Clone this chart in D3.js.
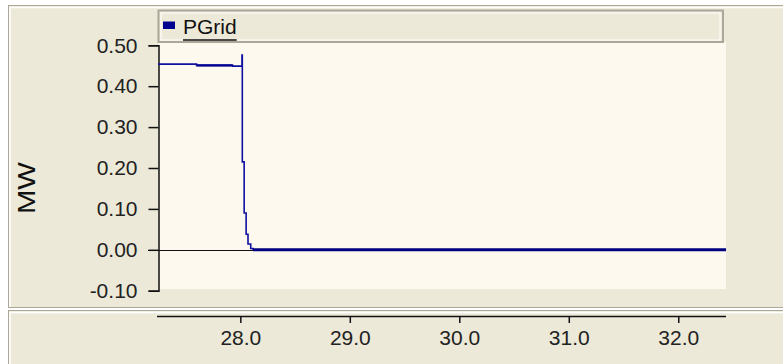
<!DOCTYPE html>
<html>
<head>
<meta charset="utf-8">
<script src="https://cdn.jsdelivr.net/npm/d3@7"></script>
<style>
  html, body { margin: 0; padding: 0; background: #ffffff; }
  svg { display: block; font-family: "Liberation Sans", Arial, sans-serif; }
</style>
</head>
<body>
<svg id="chart" width="783" height="364"></svg>
<script>
// ---- data ----
const seriesName = "PGrid";
const yLabel = "MW";
// transient part of PGrid (time in s, power in MW), step-wise
const timeTransient = [27.248, 27.60, 27.93, 28.015, 28.018, 28.035, 28.053, 28.070, 28.095, 28.115];
const powerTransient = [0.454, 0.451, 0.449, 0.476, 0.215, 0.090, 0.038, 0.014, 0.003, 0.000];
// noisy band before the trip
const timeNoisy = [27.60, 27.93];
const powerNoisy = [0.451, 0.451];
// settled part after the trip
const timeSettled = [28.115, 32.436];
const powerSettled = [0.000, 0.000];
const yTicks = [-0.10, 0.00, 0.10, 0.20, 0.30, 0.40, 0.50];
const xTicks = [28.0, 29.0, 30.0, 31.0, 32.0];

// ---- layout ----
const W = 783, H = 364;
const svg = d3.select("#chart");
const beige = "#ECE9D8", cream = "#FEF9EE", dark = "#ACA899", navy = "#000090";
const FS = 21;

const x = d3.scaleLinear().domain([27.248, 32.436]).range([158, 726]);
const y = d3.scaleLinear().domain([-0.1, 0.5]).range([290.7, 45.3]);

// background panels
svg.append("rect").attr("x", 0).attr("y", 0).attr("width", W).attr("height", H).attr("fill", "#ffffff");
// upper panel
svg.append("rect").attr("x", 8.5).attr("y", 5.5).attr("width", W).attr("height", 302).attr("fill", beige)
  .attr("stroke", dark).attr("stroke-width", 1);
svg.append("path").attr("d", `M10,${307} V7.5 H${W}`).attr("fill", "none").attr("stroke", "#ffffff").attr("stroke-width", 1.5);
// lower panel
svg.append("rect").attr("x", 8.5).attr("y", 310.5).attr("width", W).attr("height", 60).attr("fill", beige)
  .attr("stroke", dark).attr("stroke-width", 1);
svg.append("path").attr("d", `M10,${H} V312.5 H${W}`).attr("fill", "none").attr("stroke", "#ffffff").attr("stroke-width", 1.5);

// plot area
svg.append("rect").attr("x", 159).attr("y", 42).attr("width", 726 - 159).attr("height", 289 - 42).attr("fill", cream);

// legend
svg.append("rect").attr("x", 158.5).attr("y", 10.5).attr("width", 723 - 158.5).attr("height", 31.5)
  .attr("fill", beige).attr("stroke", dark).attr("stroke-width", 2);
svg.append("rect").attr("x", 161).attr("y", 13).attr("width", 559).attr("height", 27)
  .attr("fill", "none").attr("stroke", "#ffffff").attr("stroke-width", 1);
svg.append("rect").attr("x", 163).attr("y", 21.5).attr("width", 12).attr("height", 7.5).attr("fill", navy);
const legText = svg.append("text").attr("x", 183).attr("y", 34).attr("font-size", FS).attr("fill", "#111")
  .text(seriesName);
const lw = legText.node().getComputedTextLength();
svg.append("line").attr("x1", 183).attr("x2", 183 + lw).attr("y1", 40).attr("y2", 40)
  .attr("stroke", "#111").attr("stroke-width", 1.5);

// zero line
svg.append("line").attr("x1", 148).attr("x2", 726).attr("y1", Math.round(y(0)) + 0.5).attr("y2", Math.round(y(0)) + 0.5)
  .attr("stroke", "#111").attr("stroke-width", 1.2);

// y axis
const fmtY = d => d3.format(".2f")(d).replace("\u2212", "-");
const yAxis = d3.axisLeft(y).tickValues(yTicks).tickFormat(fmtY).tickSize(10).tickPadding(11);
const gy = svg.append("g").attr("transform", "translate(158.5,0)").call(yAxis);
gy.select(".domain").attr("stroke", "#111").attr("stroke-width", 1.5);
gy.selectAll(".tick line").attr("stroke", "#111").attr("stroke-width", 1.5);
gy.selectAll(".tick text").attr("font-size", FS).attr("fill", "#222").attr("font-family", "Liberation Sans, Arial, sans-serif");

// y label
svg.append("text").attr("transform", `translate(35,188) rotate(-90)`).attr("text-anchor", "middle")
  .attr("font-size", 23).attr("fill", "#111").attr("textLength", 52).attr("lengthAdjust", "spacingAndGlyphs").text(yLabel);

// x axis (in lower panel)
const xAxis = d3.axisBottom(x).tickValues(xTicks).tickFormat(d3.format(".1f")).tickSize(7).tickSizeOuter(0).tickPadding(7);
const gx = svg.append("g").attr("transform", "translate(0,316)").call(xAxis);
gx.select(".domain").attr("stroke", "#111").attr("stroke-width", 1.5).attr("d", `M157,0.5H726`);
gx.selectAll(".tick line").attr("stroke", "#111").attr("stroke-width", 1.5);
gx.selectAll(".tick text").attr("font-size", FS).attr("fill", "#222").attr("font-family", "Liberation Sans, Arial, sans-serif");

// data lines
const line = d3.line().x(d => x(d[0])).y(d => y(d[1])).curve(d3.curveStepAfter);
const plain = d3.line().x(d => x(d[0])).y(d => y(d[1]));
svg.append("path").datum(d3.zip(timeTransient, powerTransient)).attr("d", line)
  .attr("fill", "none").attr("stroke", "#1010A0").attr("stroke-width", 1.6);
svg.append("path").datum(d3.zip(timeNoisy, powerNoisy)).attr("d", plain)
  .attr("fill", "none").attr("stroke", navy).attr("stroke-width", 2.4);
svg.append("path").datum(d3.zip(timeSettled, powerSettled)).attr("d", plain)
  .attr("fill", "none").attr("stroke", "#000080").attr("stroke-width", 3);
</script>
</body>
</html>
